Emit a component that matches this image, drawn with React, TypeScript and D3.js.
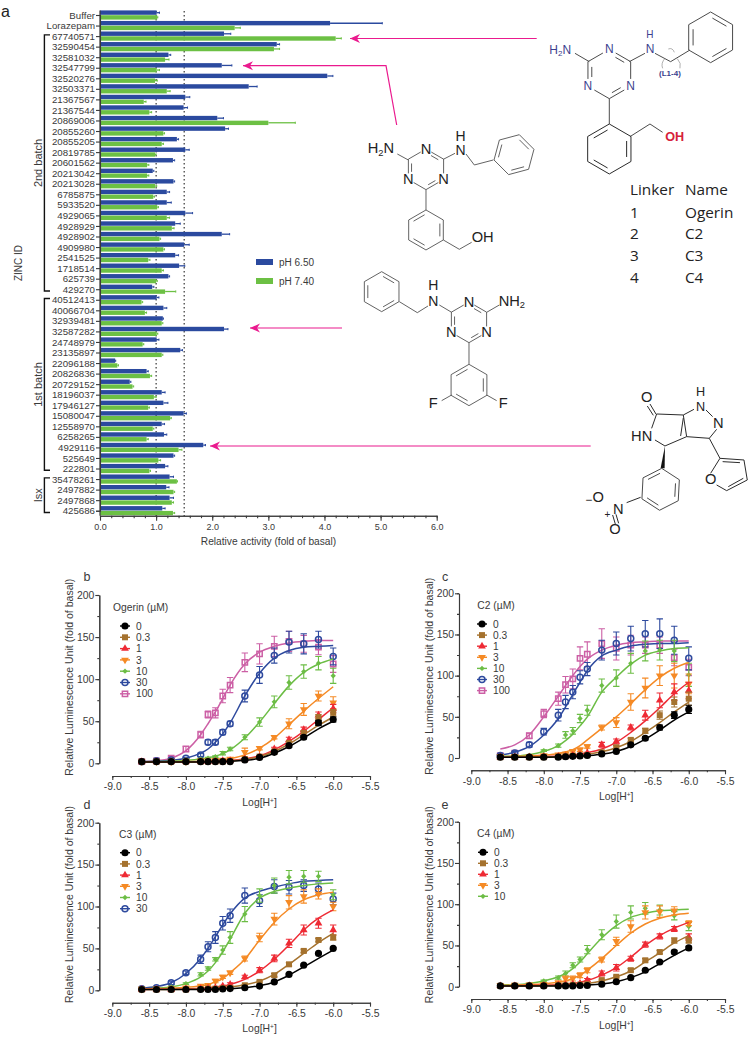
import React, { useEffect, useRef } from "react";
import * as d3 from "d3";

// ---------- Panel a data ----------
const zincIds = ["Buffer","Lorazepam","67740571","32590454","32581032","32547799","32520276","32503371","21367567","21367544","20869006","20855260","20855205","20819785","20601562","20213042","20213028","6785875","5933520","4929065","4928929","4928902","4909980","2541525","1718514","625739","429270","40512413","40066704","32939481","32587282","24748979","23135897","22096188","20826836","20729152","18196037","17946127","15080047","12558970","6258265","4929116","525649","222801","35478261","2497882","2497868","425686"];
const ph650 = [1.01,4.1,2.21,3.15,1.22,2.17,4.05,2.65,1.52,1.49,2.09,2.23,1.37,1.52,1.3,0.94,1.31,1.19,1.19,1.52,1.34,2.17,1.5,1.34,1.41,1.22,0.93,1.01,1.13,1.12,2.21,1.01,1.43,0.27,0.83,0.53,1.1,1.13,1.49,1.1,1.14,1.84,1.31,1.16,1.24,1.18,1.24,1.11];
const ph650Top = [1.06,5.03,2.33,3.2,1.26,2.35,4.15,2.8,1.6,1.56,2.2,2.29,1.4,1.59,1.33,0.96,1.33,1.24,1.27,1.65,1.43,2.31,1.59,1.4,1.51,1.24,0.96,1.05,1.19,1.13,2.28,1.05,1.47,0.28,0.86,0.55,1.16,1.21,1.54,1.15,1.19,1.88,1.33,1.21,1.31,1.23,1.31,1.16];
const ph740 = [1.02,2.4,4.2,3.1,1.16,1.01,0.98,1.19,0.78,0.88,3.0,1.13,1.1,0.98,0.84,0.84,0.98,0.95,1.02,1.19,1.28,1.06,1.13,0.86,1.1,1.0,1.16,0.74,0.8,1.1,1.01,0.76,1.1,0.31,0.89,0.58,0.96,0.86,1.25,0.94,0.83,1.4,1.04,0.88,1.37,1.31,1.28,1.3];
const ph740Top = [1.03,2.5,4.3,3.2,1.23,1.06,1.02,1.25,0.82,0.92,3.48,1.15,1.13,1.0,0.87,0.87,1.01,0.97,1.04,1.24,1.32,1.08,1.15,0.89,1.13,1.02,1.35,0.76,0.83,1.12,1.03,0.78,1.12,0.33,0.92,0.6,1.0,0.88,1.27,0.96,0.86,1.46,1.08,0.9,1.38,1.33,1.31,1.33];
const refLines = [1.0, 1.5];
const activityTicks = [0, 1, 2, 3, 4, 5, 6];
const groupBrackets = [
  { label: "2nd batch", first: "67740571", last: "429270" },
  { label: "1st batch", first: "40512413", last: "222801" },
  { label: "Isx", first: "35478261", last: "425686" },
];

// ---------- Dose-response data ----------
const logH = [-8.6,-8.4,-8.2,-8.0,-7.8,-7.7,-7.6,-7.5,-7.4,-7.2,-7.0,-6.8,-6.6,-6.4,-6.2,-6.0];

const ogerinDoses = ["0","0.3","1","3","10","30","100"];
const ogerinMeans = [
  [2,2,2,2,2,2,2,2,2,4,7,13,21,31,48,52],
  [2,2,2,2,2,2,2,2,2.5,4.5,8,14,24,36,54,60],
  [2,2,2,2,2,2,2.5,3,3,5,8,17,28,40,57,65],
  [2,2,2,2,3,3,3.5,4,5,13,18,31,47,64,80,72],
  [2,2,3,4,5,6,8,12,17,31,49,73,96,109,119,104],
  [2,3,4,6,10,25,25,37,47,80,105,128,144,142,147,127],
  [2,3,6,17,34,58,60,80,93,120,130,139,145,142,138,118],
];
const ogerinErrs = [
  [1,1,1,1,1,1,1,1,1,1,1,2,2,2,3,3],
  [1,1,1,1,1,1,1,1,1,1,1,2,2,3,4,4],
  [1,1,1,1,1,1,1,1,1,1,1,2,3,3,4,5],
  [1,1,1,1,1,1,1,1,1,5,2,2,6,7,6,7],
  [1,1,1,1,1,1,1,2,2,3,5,7,8,8,8,9],
  [1,1,1,1,2,3,3,3,3,7,10,9,13,12,10,10],
  [1,1,2,3,4,4,6,8,9,11,12,12,12,10,9,10],
];
const ogerinFits = [
  [1.5,1.5,1.5,1.5,1.6,1.7,1.9,2.1,2.4,3.5,6,12,20,30,41,50],
  [1.5,1.5,1.5,1.5,1.7,1.8,2,2.4,2.8,4.5,8,14,23,34,45,55],
  [1.5,1.5,1.5,1.6,1.8,2,2.3,2.7,3.3,5.3,9,16,26,38,52,66],
  [1.6,1.6,1.8,2,2.4,2.8,3.4,4.2,5.5,10,18,30,46,62,77,91],
  [1.7,2,2.5,3.3,5,6.5,8.5,11.5,16,30,49,71,92,108,118,124],
  [2,2.5,3.5,6,12,17,25,35,48,80,107,125,134,138,139,140],
  [2,3,6,15,34,47,61,77,93,118,132,139,143,145,146,146],
];

const c2Doses = ["0","0.3","1","3","10","30","100"];
const c2Means = [
  [1,1,1,1,1,1.5,2,2.5,3,5,8,16,24,37,52,59],
  [1,1,1,1,1.5,2,2.5,3,3.5,7,13,22,33,52,68,72],
  [1,1,1,1.5,2,2,3,4,6,16,20,37,52,70,80,82],
  [2,2,2,3,4,5,8,10,14,37,43,68,85,100,100,90],
  [2,2,3,9,15,28,33,48,58,88,97,115,130,131,130,101],
  [3,6,16,32,52,68,80,98,108,131,139,145,151,151,143,121],
  [3,6,27,54,72,89,96,121,126,139,133,137,137,137,122,110],
];
const c2Errs = [
  [1,1,1,1,1,1,1,1,1,1,1,2,2,3,4,5],
  [1,1,1,1,1,1,1,1,1,2,2,2,3,5,6,8],
  [1,1,1,1,1,1,1,1,1,3,3,3,6,9,10,10],
  [1,1,1,1,1,1,2,2,2,3,6,10,12,12,15,12],
  [1,1,1,1,2,4,4,5,6,8,10,12,12,12,13,14],
  [1,2,3,4,7,8,8,8,8,12,14,15,16,18,17,14],
  [1,2,3,5,8,10,12,14,15,18,14,12,10,10,10,10],
];
const c2Fits = [
  [1,1,1,1,1.2,1.4,1.7,2.1,2.8,4.6,8,14,23,34,46,56],
  [1.1,1.1,1.2,1.4,1.8,2.2,2.7,3.4,4.4,7.5,12.5,20,31,43,56,68],
  [1.2,1.2,1.4,1.8,2.4,3,3.8,5,6.6,11,19,31,45,61,78,92],
  [1.5,2,2.5,3.5,5.5,7.5,10,15,22,36,50,66,83,98,109,116],
  [2,2.5,4,8,15,21,29,39,50,80,98,114,125,130,133,134],
  [3.5,7,14,28,48,62,77,92,106,124,131,136,138,139,139,140],
  [11,16,28,50,75,88,100,111,120,131,137,140,141,142,142,142],
];

const c3Doses = ["0","0.3","1","3","10","30"];
const c3Means = [
  [1,1,1,1,1,1,1,1.5,2,3,5,10,19,30,44,50],
  [1,1,1,1,1.5,2,2,2.5,3,6,10,18,31,47,60,63],
  [1,1,1,1.5,2,2.5,3,5,7,16,24,38,56,72,80,72],
  [1.5,2,2,3,5,6,11,16,21,38,63,85,105,112,115,100],
  [2,2,4,8,19,26,37,48,63,91,113,125,135,136,136,114],
  [2,3,9,21,37,52,63,80,89,113,107,124,123,125,121,109],
];
const c3Errs = [
  [0.5,0.5,0.5,0.5,0.5,0.5,0.5,0.5,0.5,0.5,0.5,1,1,1,1,1],
  [1,1,1,1,1,1,1,1,1,1,1,2,2,2,2,3],
  [1,1,1,1,1,1,1,1,2,2,3,4,5,6,6,6],
  [1,1,1,1,1,1,2,2,2,3,5,7,8,8,6,5],
  [1,1,1,1,2,2,2,5,7,9,8,9,8,7,6,6],
  [1,1,2,2,5,6,7,8,8,9,7,8,8,7,7,7],
];
const c3Fits = [
  [1,1,1,1,1,1.1,1.3,1.6,2,3,5.5,10,18,28,38,48],
  [1,1,1.1,1.3,1.6,2,2.4,3,3.8,6.5,11,19,31,44,57,68],
  [1.1,1.2,1.3,1.7,2.4,3,3.8,5,7,13,23,37,54,72,86,96],
  [1.5,2,2.5,3.5,5.5,7,10,14,21,37,60,81,97,108,114,117],
  [1.8,2.5,4,8,16,23,33,46,61,92,110,118,122,125,127,128],
  [2.5,4.5,9,20,38,50,64,78,91,110,118,123,127,130,131,132],
];

const c4Doses = ["0","0.3","1","3","10"];
const c4Means = [
  [1,1,1,1,1,1,1,1.5,1.5,3,6,11,20,30,42,47],
  [1,1,1,1,1.5,1.5,2,2.5,3,8,12,20,32,42,56,56],
  [1,1,1,1.5,2,2.5,3,4,8,16,23,34,51,61,70,60],
  [1.5,2,2.5,3,5,10,10,14,20,33,55,73,90,91,92,77],
  [2,2,3,7,11,16,26,33,45,63,79,90,95,93,86,73],
];
const c4Errs = [
  [0.5,0.5,0.5,0.5,0.5,0.5,0.5,0.5,0.5,0.5,1,1,1,1,2,2],
  [1,1,1,1,1,1,1,1,1,1,1,2,2,2,3,3],
  [1,1,1,1,1,1,1,1,2,3,4,3,3,3,3,4],
  [1,1,1,1,1,3,3,3,3,3,5,7,8,7,5,3],
  [1,1,1,1,2,3,3,3,5,6,8,8,7,6,5,5],
];
const c4Fits = [
  [1,1,1,1,1,1.1,1.3,1.6,2,3.3,6,11,18,28,38,47],
  [1,1,1,1.3,1.6,2,2.4,3,4,7,12,19,30,41,53,62],
  [1.2,1.2,1.4,1.8,2.5,3,4,5.5,7.5,14,23,36,50,62,71,78],
  [1.5,2,2.6,3.6,5.5,7,10,14,20,34,50,65,76,83,87,89],
  [2,2.5,4,7,12,16,22,30,40,59,74,84,89,92,93,94],
];

const doseColors: Record<string, string> = { "0": "#000000", "0.3": "#a5722e", "1": "#ee2a34", "3": "#f58a25", "10": "#6cbd45", "30": "#2e4a9e", "100": "#cc5fa5" };
const doseSymbols: Record<string, any> = { "0": d3.symbolCircle, "0.3": d3.symbolSquare, "1": d3.symbolTriangle, "3": d3.symbolTriangle, "10": d3.symbolDiamond2, "30": d3.symbolCircle, "100": d3.symbolSquare };
const doseSizes: Record<string, number> = { "0": 40, "0.3": 36, "1": 26, "3": 26, "10": 18, "30": 28, "100": 28 };

const FONT = "'Liberation Sans', Arial, sans-serif";
const INK = "#3a3a3a";
const BLUE = "#2b4a9f";
const GREEN = "#6cc044";
const PINK = "#ea1a8e";

function Axis({ axis, fontSize = 10.4, color = INK, strokeW = 1.1, transform }: any) {
  const ref = useRef<SVGGElement>(null);
  useEffect(() => {
    const g = d3.select(ref.current!);
    g.call(axis);
    g.attr("font-family", FONT).attr("font-size", fontSize);
    g.selectAll("path,line").attr("stroke", color).attr("stroke-width", strokeW);
    g.selectAll("text").attr("fill", color);
  }, []);
  return <g ref={ref} transform={transform} />;
}

function Arrow({ points }: { points: [number, number][] }) {
  const n = points.length - 1;
  const [x, y] = points[n];
  return (
    <g>
      <polyline points={points.map((p) => p.join(",")).join(" ")} fill="none" stroke={PINK} strokeWidth={1.2} />
      <path d={`M${x},${y} L${x + 10},${y - 4.5} L${x + 7},${y} L${x + 10},${y + 4.5} Z`} fill={PINK} />
    </g>
  );
}

function PanelA() {
  const x = d3.scaleLinear().domain([0, 6]).range([100, 436.7]);
  const y = d3.scalePoint<string>().domain(zincIds).range([15, 510.7]);
  const barH = 4.4;
  const xMajor = d3.axisBottom(x).tickValues(activityTicks).tickFormat(d3.format(".1f") as any).tickSize(5).tickPadding(3).tickSizeOuter(0);
  const xMinor = d3.axisBottom(x).tickValues(d3.range(0, 6.01, 0.2)).tickFormat(() => "").tickSize(2.5).tickSizeOuter(0);
  const yAxis = d3.axisLeft(y).tickSize(4).tickPadding(1).tickSizeOuter(0);
  return (
    <g fontFamily={FONT}>
      {refLines.map((v) => (
        <line key={v} x1={x(v)} x2={x(v)} y1={11} y2={516} stroke="#222" strokeWidth={1.1} strokeDasharray="1.5 2.5" />
      ))}
      {zincIds.map((id, i) => {
        const c = y(id)!;
        return (
          <g key={id}>
            <rect x={x(0)} y={c - barH - 0.2} width={x(ph650[i]) - x(0)} height={barH} fill={BLUE} />
            <line x1={x(ph650[i])} x2={x(ph650Top[i])} y1={c - 2.3} y2={c - 2.3} stroke={BLUE} strokeWidth={1.3} />
            <line x1={x(ph650Top[i])} x2={x(ph650Top[i])} y1={c - 3.4} y2={c - 1.2} stroke={BLUE} strokeWidth={1} />
            <rect x={x(0)} y={c + 0.2} width={x(ph740[i]) - x(0)} height={barH} fill={GREEN} />
            <line x1={x(ph740[i])} x2={x(ph740Top[i])} y1={c + 2.3} y2={c + 2.3} stroke={GREEN} strokeWidth={1.3} />
            <line x1={x(ph740Top[i])} x2={x(ph740Top[i])} y1={c + 1.2} y2={c + 3.4} stroke={GREEN} strokeWidth={1} />
          </g>
        );
      })}
      <line x1={100} x2={100} y1={10.5} y2={515.7} stroke={INK} strokeWidth={1.2} />
      <Axis axis={yAxis.tickSize(4)} fontSize={9.7} transform="translate(100,0)" />
      <Axis axis={xMajor} fontSize={9} transform="translate(0,515.7)" />
      <Axis axis={xMinor} fontSize={8} transform="translate(0,515.7)" />
      <text x={268.5} y={545} textAnchor="middle" fontSize={10.2} fill={INK}>Relative activity (fold of basal)</text>
      <text transform="translate(22,263) rotate(-90)" textAnchor="middle" fontSize={10} fill={INK}>ZINC ID</text>
      {groupBrackets.map((b) => {
        const top = y(b.first)! - 1.2;
        const bot = y(b.last)! + 1.8;
        const mid = (top + bot) / 2;
        return (
          <g key={b.label}>
            <path d={`M50,${top} H44.4 V${bot} H50`} fill="none" stroke="#111" strokeWidth={1.4} />
            <text transform={`translate(42,${mid}) rotate(-90)`} textAnchor="middle" fontSize={11} fill={INK}>{b.label}</text>
          </g>
        );
      })}
      <rect x={256} y={259} width={17} height={6} fill={BLUE} />
      <rect x={256} y={278} width={17} height={6} fill={GREEN} />
      <text x={279} y={265.5} fontSize={10} fill={INK}>pH 6.50</text>
      <text x={279} y={284.5} fontSize={10} fill={INK}>pH 7.40</text>
    </g>
  );
}

function DosePanel({ letter, letterX, letterY, title, doses, means, errs, fits, x0, x1, axisY, yTop, yZero, yAxisX, legendX, lineX, titleY, legendY, legendStep }: any) {
  const x = d3.scaleLinear().domain([-9, -5.5]).range([x0, x1]);
  const y = d3.scaleLinear().domain([0, 200]).range([yZero, yTop]);
  const line = d3.line<[number, number]>().x((d) => x(d[0])).y((d) => y(d[1])).curve(d3.curveMonotoneX);
  const hyphenFmt = (v: any) => d3.format(".1f")(v).replace("−", "-");
  const xMajor = d3.axisBottom(x).tickValues(d3.range(-9, -5.49, 0.5)).tickFormat(hyphenFmt as any).tickSize(4).tickPadding(3).tickSizeOuter(0);
  const xMinor = d3.axisBottom(x).tickValues(d3.range(-9, -5.49, 0.25)).tickFormat(() => "").tickSize(2).tickSizeOuter(0);
  const yMajor = d3.axisLeft(y).tickValues([0, 50, 100, 150, 200]).tickSize(4).tickPadding(1).tickSizeOuter(0);
  const yMinor = d3.axisLeft(y).tickValues(d3.range(0, 201, 25)).tickFormat(() => "").tickSize(2).tickSizeOuter(0);
  const sym = (d: string) => d3.symbol().type(doseSymbols[d]).size(doseSizes[d])()!;
  const marker = (d: string, px: number, py: number) => {
    const hollow = d === "30" || d === "100";
    const flip = d === "3" ? " scale(1,-1)" : "";
    return (
      <path d={sym(d)} transform={`translate(${px},${py})${flip}`} fill={hollow ? "none" : doseColors[d]} stroke={hollow ? doseColors[d] : "none"} strokeWidth={hollow ? 1.5 : 0} />
    );
  };
  const order = doses.map((_: string, i: number) => i).reverse();
  return (
    <g fontFamily={FONT}>
      <text x={letterX} y={letterY} fontSize={12.5} fill={INK} textAnchor="middle">{letter}</text>
      <Axis axis={yMajor} transform={`translate(${yAxisX},0)`} />
      <Axis axis={yMinor} transform={`translate(${yAxisX},0)`} />
      <Axis axis={xMajor} transform={`translate(0,${axisY})`} />
      <Axis axis={xMinor} transform={`translate(0,${axisY})`} />
      <text transform={`translate(${yAxisX - 26.5},${(yTop + yZero) / 2 + (yAxisX < 200 ? -2 : 0.5)}) rotate(-90)`} textAnchor="middle" fontSize={10.4} fill={INK} textLength={197} lengthAdjust="spacingAndGlyphs">Relative Luminescence Unit (fold of basal)</text>
      <text x={x(-7)} y={axisY + 29.5} textAnchor="middle" fontSize={10.4} fill={INK}>Log[H<tspan dy={-3} fontSize={6.5}>+</tspan><tspan dy={3}>]</tspan></text>
      <text x={legendX} y={titleY} fontSize={10.3} fill={INK}>{title} (µM)</text>
      {doses.map((d: string, i: number) => {
        const ly = legendY + i * legendStep;
        return (
          <g key={d}>
            <line x1={lineX} x2={lineX + 10} y1={ly} y2={ly} stroke={doseColors[d]} strokeWidth={1.4} />
            {marker(d, lineX + 5, ly)}
            <text x={lineX + 16} y={ly + 3.6} fontSize={10.2} fill={INK}>{d}</text>
          </g>
        );
      })}
      {order.map((i: number) => {
        const d = doses[i];
        const c = doseColors[d];
        return (
          <g key={d}>
            <path d={line(logH.map((h, k) => [h, fits[i][k]]))!} fill="none" stroke={c} strokeWidth={1.5} />
            {logH.map((h, k) => {
              const e = errs[i][k];
              if (e < 1) return null;
              return (
                <path key={h} d={`M${x(h) - 3.2},${y(means[i][k] + e)} H${x(h) + 3.2} M${x(h)},${y(means[i][k] + e)} V${y(means[i][k] - e)} M${x(h) - 3.2},${y(means[i][k] - e)} H${x(h) + 3.2}`} fill="none" stroke={c} strokeWidth={1.1} />
              );
            })}
            {logH.map((h, k) => <g key={h}>{marker(d, x(h), y(means[i][k]))}</g>)}
          </g>
        );
      })}
    </g>
  );
}

// Chemical structures are drawn in a 3x working space.
function Ring({ cx, cy, r, rot = 0, stroke, sw = 3, doubles = [0, 2, 4] }: any) {
  const pts = d3.range(6).map((i) => {
    const a = ((rot + i * 60 - 90) * Math.PI) / 180;
    return [cx + r * Math.cos(a), cy + r * Math.sin(a)];
  });
  const ins = pts.map((p) => [cx + (p[0] - cx) * 0.8, cy + (p[1] - cy) * 0.8]);
  return (
    <g stroke={stroke} strokeWidth={sw} fill="none">
      <polygon points={pts.map((p) => p.join(",")).join(" ")} />
      {doubles.map((k: number) => {
        const a = ins[k], b = ins[(k + 1) % 6];
        return <line key={k} x1={a[0] * 0.9 + b[0] * 0.1} y1={a[1] * 0.9 + b[1] * 0.1} x2={a[0] * 0.1 + b[0] * 0.9} y2={a[1] * 0.1 + b[1] * 0.9} />;
      })}
    </g>
  );
}
function Bonds({ list, stroke, sw = 3 }: any) {
  return (
    <path d={list.map((b: number[]) => `M${b[0]},${b[1]} L${b[2]},${b[3]}`).join(" ")} fill="none" stroke={stroke} strokeWidth={sw} />
  );
}
function Lab({ x, y, children, size = 40, fill = "#222", anchor = "middle", weight = "normal", font = FONT }: any) {
  return <text x={x} y={y} fontSize={size} fill={fill} textAnchor={anchor} fontWeight={weight} fontFamily={font} dominantBaseline="central">{children}</text>;
}

function Triazine({ cx, cy, r, stroke, labelColor, size, sw, weight = "normal" }: any) {
  const v = d3.range(6).map((i) => {
    const a = ((i * 60 - 90) * Math.PI) / 180;
    return [cx + r * Math.cos(a), cy + r * Math.sin(a)];
  });
  const seg = (p: number[], q: number[], t0: number, t1: number) => [p[0] + (q[0] - p[0]) * t0, p[1] + (q[1] - p[1]) * t0, p[0] + (q[0] - p[0]) * t1, p[1] + (q[1] - p[1]) * t1];
  const list = [0, 1, 2, 3, 4, 5].map((i) => {
    const p = v[i], q = v[(i + 1) % 6];
    return i % 2 === 0 ? seg(p, q, 0.3, 1) : seg(p, q, 0, 0.7);
  });
  const inner = v.map((p) => [cx + (p[0] - cx) * 0.82, cy + (p[1] - cy) * 0.82]);
  const dbl = [0, 2, 4].map((i) => seg(inner[i], inner[(i + 1) % 6], 0.35, 0.85));
  return (
    <g>
      <Bonds list={[...list, ...dbl]} stroke={stroke} sw={sw} />
      <Lab x={v[0][0]} y={v[0][1]} size={size} fill={labelColor} weight={weight}>N</Lab>
      <Lab x={v[2][0]} y={v[2][1]} size={size} fill={labelColor} weight={weight}>N</Lab>
      <Lab x={v[4][0]} y={v[4][1]} size={size} fill={labelColor} weight={weight}>N</Lab>
    </g>
  );
}

function Structures() {
  const gray = "#4a4a4a";
  const navy = "#3b3f8e";
  const dark = "#2a2a2a";
  const tableFont = "'Open Sans', sans-serif";
  const linkerRows = [["1", "Ogerin"], ["2", "C2"], ["3", "C3"], ["4", "C4"]];
  return (
    <g>
      <g transform="translate(340,0) scale(0.3333)">
        {/* Parent scaffold */}
        <Triazine cx={808} cy={222} r={74} stroke={gray} labelColor={navy} size={36} sw={3} />
        <Bonds stroke={gray} list={[[705,160,748,185],[868,185,915,160],[945,160,992,185],[992,185,1050,150],[808,296,808,372],[870,410,930,372],[930,372,968,397]]} />
        <Ring cx={1112} cy={112} r={76} stroke={gray} doubles={[0,2,4]} />
        <Ring cx={808} cy={447} r={75} stroke={dark} doubles={[1,3,5]} />
        <text x={628} y={162} fontSize={36} fill={navy} fontFamily={FONT}>H<tspan fontSize={24} dy={7}>2</tspan><tspan dy={-7}>N</tspan></text>
        <Lab x={930} y={148} size={36} fill={navy}>N</Lab>
        <Lab x={930} y={105} size={30} fill={navy}>H</Lab>
        <Lab x={990} y={220} size={24} fill={navy} weight="bold">(L1-4)</Lab>
        <path d="M985,147 Q998,142 1003,157 M968,205 Q962,190 975,175 M1012,176 Q1025,190 1020,205" fill="none" stroke="#888" strokeWidth={2} />
        <Lab x={1004} y={410} size={38} fill="#d6223a" weight="bold">OH</Lab>
        {/* Meta benzyl alcohol */}
        <Triazine cx={258} cy={508} r={61} stroke={gray} labelColor="#222" size={44} sw={2.6} />
        <Bonds stroke={gray} sw={2.6} list={[[172,462,205,480],[310,478,345,460],[378,462,403,495],[403,495,460,480],[258,570,258,630],[310,720,358,748],[358,748,395,727]]} />
        <Ring cx={522} cy={464} r={62} rot={15} stroke={gray} sw={2.6} doubles={[0,2,4]} />
        <Ring cx={258} cy={690} r={60} stroke={gray} sw={2.6} doubles={[1,3,5]} />
        <text x={83} y={460} fontSize={44} fill="#222" fontFamily={FONT}>H<tspan fontSize={28} dy={7}>2</tspan><tspan dy={-7}>N</tspan></text>
        <Lab x={362} y={450} size={42}>N</Lab>
        <Lab x={362} y={408} size={42}>H</Lab>
        <Lab x={428} y={712} size={44}>OH</Lab>
        {/* Linker table */}
        <Lab x={870} y={568} size={46} anchor="start" font={tableFont}>Linker</Lab>
        <Lab x={1035} y={568} size={46} anchor="start" font={tableFont}>Name</Lab>
        {linkerRows.map((row, i) => (
          <g key={row[0]}>
            <Lab x={870} y={635 + i * 65} size={46} anchor="start" font={tableFont}>{row[0]}</Lab>
            <Lab x={1035} y={635 + i * 65} size={46} anchor="start" font={tableFont}>{row[1]}</Lab>
          </g>
        ))}
      </g>
      <g transform="translate(340,260) scale(0.3333)">
        {/* Difluoro analogue */}
        <Ring cx={125} cy={95} r={60} stroke={gray} sw={2.6} doubles={[0,2,4]} />
        <Bonds stroke={gray} sw={2.6} list={[[178,125,232,158],[232,158,264,138],[298,135,335,157],[440,157,478,135],[387,248,387,312],[440,405,470,422],[335,405,305,422]]} />
        <Triazine cx={387} cy={187} r={61} stroke={gray} labelColor="#222" size={44} sw={2.6} />
        <Ring cx={387} cy={375} r={62} stroke={gray} sw={2.6} doubles={[1,3,5]} />
        <Lab x={280} y={122} size={42}>N</Lab>
        <Lab x={280} y={75} size={42}>H</Lab>
        <text x={476} y={137} fontSize={44} fill="#222" fontFamily={FONT}>NH<tspan fontSize={28} dy={7}>2</tspan></text>
        <Lab x={490} y={430} size={44}>F</Lab>
        <Lab x={280} y={430} size={44}>F</Lab>
        {/* Pyrazolone hit */}
        <Bonds stroke={dark} sw={3} list={[[930,432,948,462],[922,438,940,466],[950,462,1030,465],[1030,465,1062,448],[1098,450,1118,470],[1130,508,1108,535],[1108,535,1040,530],[1040,530,1030,465],[1030,474,1022,528],[1040,530,975,558],[975,558,945,540],[950,462,935,505],[902,712,860,728],[1108,535,1140,595],[1140,595,1212,600],[1212,600,1222,660],[1222,660,1160,692],[1160,692,1130,675],[1112,640,1140,595],[1148,605,1200,608],[1210,655,1165,680],[818,765,826,792],[828,763,836,790]]} />
        <path d="M975,558 L962,625 L974,625 Z" fill="#111" />
        <Ring cx={962} cy={688} r={63} rot={3} stroke={gray} sw={3} doubles={[1,3,5]} />
        <Lab x={920} y={412} size={44}>O</Lab>
        <Lab x={1082} y={442} size={38}>N</Lab>
        <Lab x={1082} y={397} size={38}>H</Lab>
        <Lab x={1135} y={488} size={44}>N</Lab>
        <Lab x={905} y={528} size={44}>HN</Lab>
        <Lab x={1112} y={658} size={44}>O</Lab>
        <Lab x={835} y={748} size={44}>N</Lab>
        <Lab x={775} y={710} size={44}>O</Lab>
        <Lab x={746} y={720} size={36}>−</Lab>
        <Lab x={802} y={763} size={30}>+</Lab>
        <Lab x={825} y={808} size={44}>O</Lab>
      </g>
    </g>
  );
}

export default function App() {
  return (
    <svg width={749} height={1050} style={{ position: "absolute", left: 0, top: 0, background: "#fff" }}>
      <text x={1} y={17} fontSize={16} fontFamily={FONT} fill="#222">a</text>
      <PanelA />
      <Structures />
      <Arrow points={[[536.7, 38.5], [350, 38.5]]} />
      <Arrow points={[[396.7, 125], [386, 65.7], [243, 65.7]]} />
      <Arrow points={[[342, 328], [250, 328]]} />
      <Arrow points={[[590.7, 446], [210, 446]]} />
      <DosePanel letter="b" letterX={87} letterY={581} title="Ogerin" doses={ogerinDoses} means={ogerinMeans} errs={ogerinErrs} fits={ogerinFits}
        x0={112.3} x1={370} axisY={776} yTop={595} yZero={763.3} yAxisX={99.3} legendX={113} lineX={120} titleY={611} legendY={626} legendStep={11.3} />
      <DosePanel letter="c" letterX={445} letterY={581} title="C2" doses={c2Doses} means={c2Means} errs={c2Errs} fits={c2Fits}
        x0={471.3} x1={725} axisY={770.3} yTop={593.3} yZero={758} yAxisX={459} legendX={477.3} lineX={477} titleY={608.5} legendY={624} legendStep={11.1} />
      <DosePanel letter="d" letterX={87} letterY={809} title="C3" doses={c3Doses} means={c3Means} errs={c3Errs} fits={c3Fits}
        x0={112.3} x1={370} axisY={1002.7} yTop={822.7} yZero={990.3} yAxisX={99.3} legendX={119} lineX={120} titleY={837.5} legendY={852.7} legendStep={11.2} />
      <DosePanel letter="e" letterX={445} letterY={809} title="C4" doses={c4Doses} means={c4Means} errs={c4Errs} fits={c4Fits}
        x0={471.3} x1={725} axisY={999} yTop={821.7} yZero={986.7} yAxisX={459} legendX={477} lineX={478} titleY={837} legendY={852.3} legendStep={11} />
    </svg>
  );
}
